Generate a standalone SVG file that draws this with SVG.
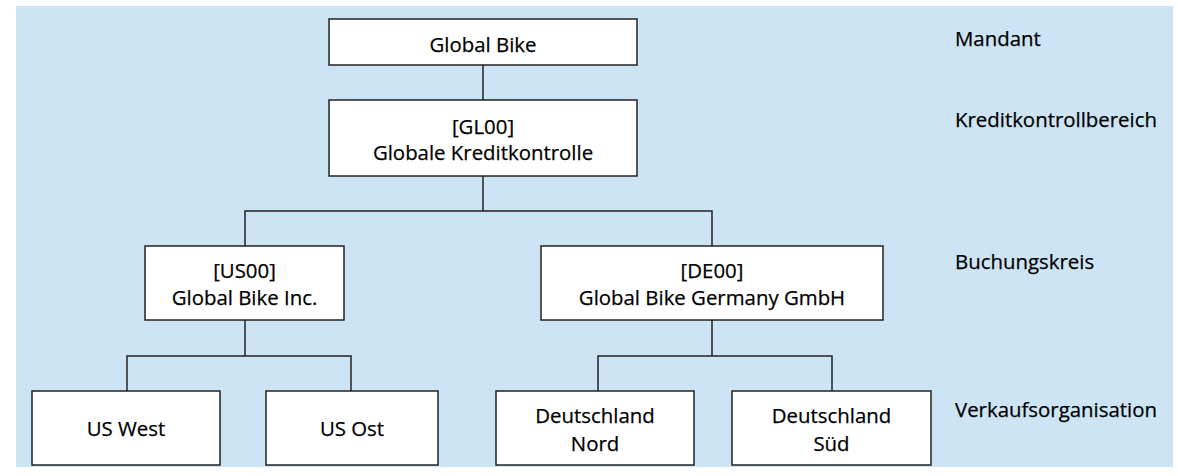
<svg xmlns="http://www.w3.org/2000/svg" width="1178" height="476" viewBox="0 0 1178 476">
  <style>
    .box { fill: #ffffff; stroke: #222222; stroke-width: 1.5; }
    .wire { fill: none; stroke: #222222; stroke-width: 1.5; }
    text { font-family: "Open Sans", "Noto Sans", "DejaVu Sans", sans-serif; font-size: 20.4px; fill: #000000; stroke: #000000; stroke-width: 0.25; }
    .c { text-anchor: middle; }
  </style>

  <rect x="0" y="0" width="1178" height="476" fill="#ffffff"/>
  <rect x="16" y="6" width="1157" height="461" fill="#cce4f3"/>

  <!-- tree connectors -->
  <g id="connectors" class="wire">
    <path d="M483 65 V100"/>
    <path d="M483 176 V211"/>
    <path d="M245 246 V211 H712 V246"/>
    <path d="M245 320 V356"/>
    <path d="M127 391 V356 H351 V391"/>
    <path d="M712 320 V356"/>
    <path d="M598 391 V356 H832 V391"/>
  </g>

  <g id="global-bike">
    <rect class="box" x="329" y="19" width="308" height="46"/>
    <text class="c" x="483" y="52">Global Bike</text>
  </g>

  <g id="gl00">
    <rect class="box" x="329" y="100" width="308" height="76"/>
    <text class="c" x="483" y="134">[GL00]</text>
    <text class="c" x="483" y="160">Globale Kreditkontrolle</text>
  </g>

  <g id="us00">
    <rect class="box" x="145" y="246" width="199" height="74"/>
    <text class="c" x="244.5" y="278">[US00]</text>
    <text class="c" x="244.5" y="305">Global Bike Inc.</text>
  </g>

  <g id="de00">
    <rect class="box" x="541" y="246" width="342" height="74"/>
    <text class="c" x="712" y="278">[DE00]</text>
    <text class="c" x="712" y="305">Global Bike Germany GmbH</text>
  </g>

  <g id="us-west">
    <rect class="box" x="32" y="391" width="188" height="74"/>
    <text class="c" x="126" y="436">US West</text>
  </g>

  <g id="us-ost">
    <rect class="box" x="266" y="391" width="172" height="74"/>
    <text class="c" x="352" y="436">US Ost</text>
  </g>

  <g id="de-nord">
    <rect class="box" x="496" y="391" width="198" height="74"/>
    <text class="c" x="595" y="423">Deutschland</text>
    <text class="c" x="595" y="451">Nord</text>
  </g>

  <g id="de-sued">
    <rect class="box" x="732" y="391" width="199" height="74"/>
    <text class="c" x="831.5" y="423">Deutschland</text>
    <text class="c" x="831.5" y="451">Süd</text>
  </g>

  <!-- level captions -->
  <g id="levels">
    <text x="955" y="46">Mandant</text>
    <text x="955" y="127">Kreditkontrollbereich</text>
    <text x="955" y="269">Buchungskreis</text>
    <text x="955" y="417">Verkaufsorganisation</text>
  </g>
</svg>
